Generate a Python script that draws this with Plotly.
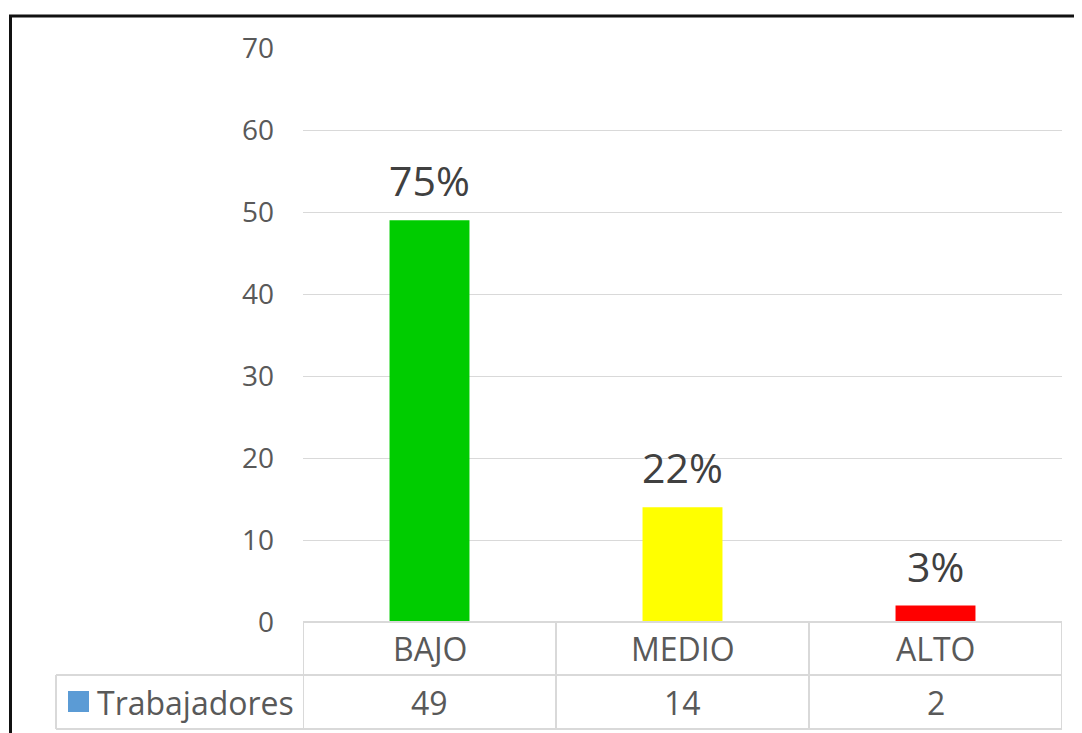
import plotly.graph_objects as go

# data
categories = ["BAJO", "MEDIO", "ALTO"]
trabajadores = [49, 14, 2]
bar_colors = ["#00CC00", "#FFFF00", "#FF0000"]
series_name = "Trabajadores"

total = sum(trabajadores)
pct_labels = ["%d%%" % round(v * 100.0 / total) for v in trabajadores]

W, H = 1082, 733
OFF = 8  # page body margin
def px_x(p): return (p - OFF) / W
def px_y(p): return (H - (p - OFF)) / H

grid_col = "#D9D9D9"
txt_col = "#595959"
FONT = "Open Sans"

fig = go.Figure()
fig.add_trace(go.Bar(
    x=categories, y=trabajadores,
    marker=dict(color=bar_colors, line=dict(width=0)),
    width=0.316, showlegend=False, hoverinfo="x+y",
))

# percentage labels above bars
for c, v, t in zip(categories, trabajadores, pct_labels):
    fig.add_annotation(x=c, y=v, xref="x", yref="y", text=t, showarrow=False,
                       yanchor="bottom", yshift=10,
                       font=dict(family=FONT, size=41, color="#404040"))

# data table under the plot
shapes = []
n = len(categories)
y_top, y_mid, y_bot = px_y(622), px_y(675), px_y(729)
for i in range(n + 1):
    shapes.append(dict(type="line", xref="x", yref="paper", x0=i - 0.5, x1=i - 0.5,
                       y0=y_top, y1=y_bot, line=dict(color=grid_col, width=2)))
shapes.append(dict(type="line", xref="x", yref="paper", x0=-0.5, x1=n - 0.5,
                   y0=y_top, y1=y_top, line=dict(color=grid_col, width=2)))
shapes.append(dict(type="line", xref="paper", yref="paper", x0=px_x(56), x1=px_x(1062),
                   y0=y_mid, y1=y_mid, line=dict(color=grid_col, width=2)))
shapes.append(dict(type="line", xref="paper", yref="paper", x0=px_x(56), x1=px_x(1062),
                   y0=y_bot, y1=y_bot, line=dict(color=grid_col, width=2)))
shapes.append(dict(type="line", xref="paper", yref="paper", x0=px_x(56), x1=px_x(56),
                   y0=y_mid, y1=y_bot, line=dict(color=grid_col, width=2)))
# legend key
shapes.append(dict(type="rect", xref="paper", yref="paper", x0=px_x(68), x1=px_x(89),
                   y0=px_y(712), y1=px_y(691), fillcolor="#5B9BD5", line=dict(width=0)))
# outer black frame (top and left)
shapes.append(dict(type="line", xref="paper", yref="paper", x0=px_x(9), x1=1,
                   y0=px_y(16), y1=px_y(16), line=dict(color="#111111", width=3)))
shapes.append(dict(type="line", xref="paper", yref="paper", x0=px_x(10.5), x1=px_x(10.5),
                   y0=px_y(16), y1=0, line=dict(color="#111111", width=3)))

for c, v in zip(categories, trabajadores):
    fig.add_annotation(x=c, y=(y_top + y_mid) / 2, xref="x", yref="paper", text=c,
                       showarrow=False, yanchor="middle",
                       font=dict(family=FONT, size=32, color=txt_col))
    fig.add_annotation(x=c, y=(y_mid + y_bot) / 2, xref="x", yref="paper", text=str(v),
                       showarrow=False, yanchor="middle",
                       font=dict(family=FONT, size=32, color=txt_col))
fig.add_annotation(x=px_x(95), y=(y_mid + y_bot) / 2, xref="paper", yref="paper",
                   text=series_name, showarrow=False, xanchor="left", yanchor="middle",
                   font=dict(family=FONT, size=32, color=txt_col))

fig.update_layout(
    width=W, height=H,
    margin=dict(l=0, r=0, t=0, b=0, autoexpand=False),
    paper_bgcolor="white", plot_bgcolor="white",
    shapes=shapes,
    xaxis=dict(domain=[px_x(303), px_x(1062)], showticklabels=False, showgrid=False,
               zeroline=False, showline=False, range=[-0.5, n - 0.5], automargin=False),
    yaxis=dict(domain=[px_y(622), px_y(48)], range=[0, 70], dtick=10,
               showgrid=True, gridcolor=grid_col, gridwidth=1, zeroline=False,
               showline=False, ticklabelstandoff=28, automargin=False,
               tickfont=dict(family=FONT, size=28, color=txt_col)),
)

fig.write_html("out.html")
